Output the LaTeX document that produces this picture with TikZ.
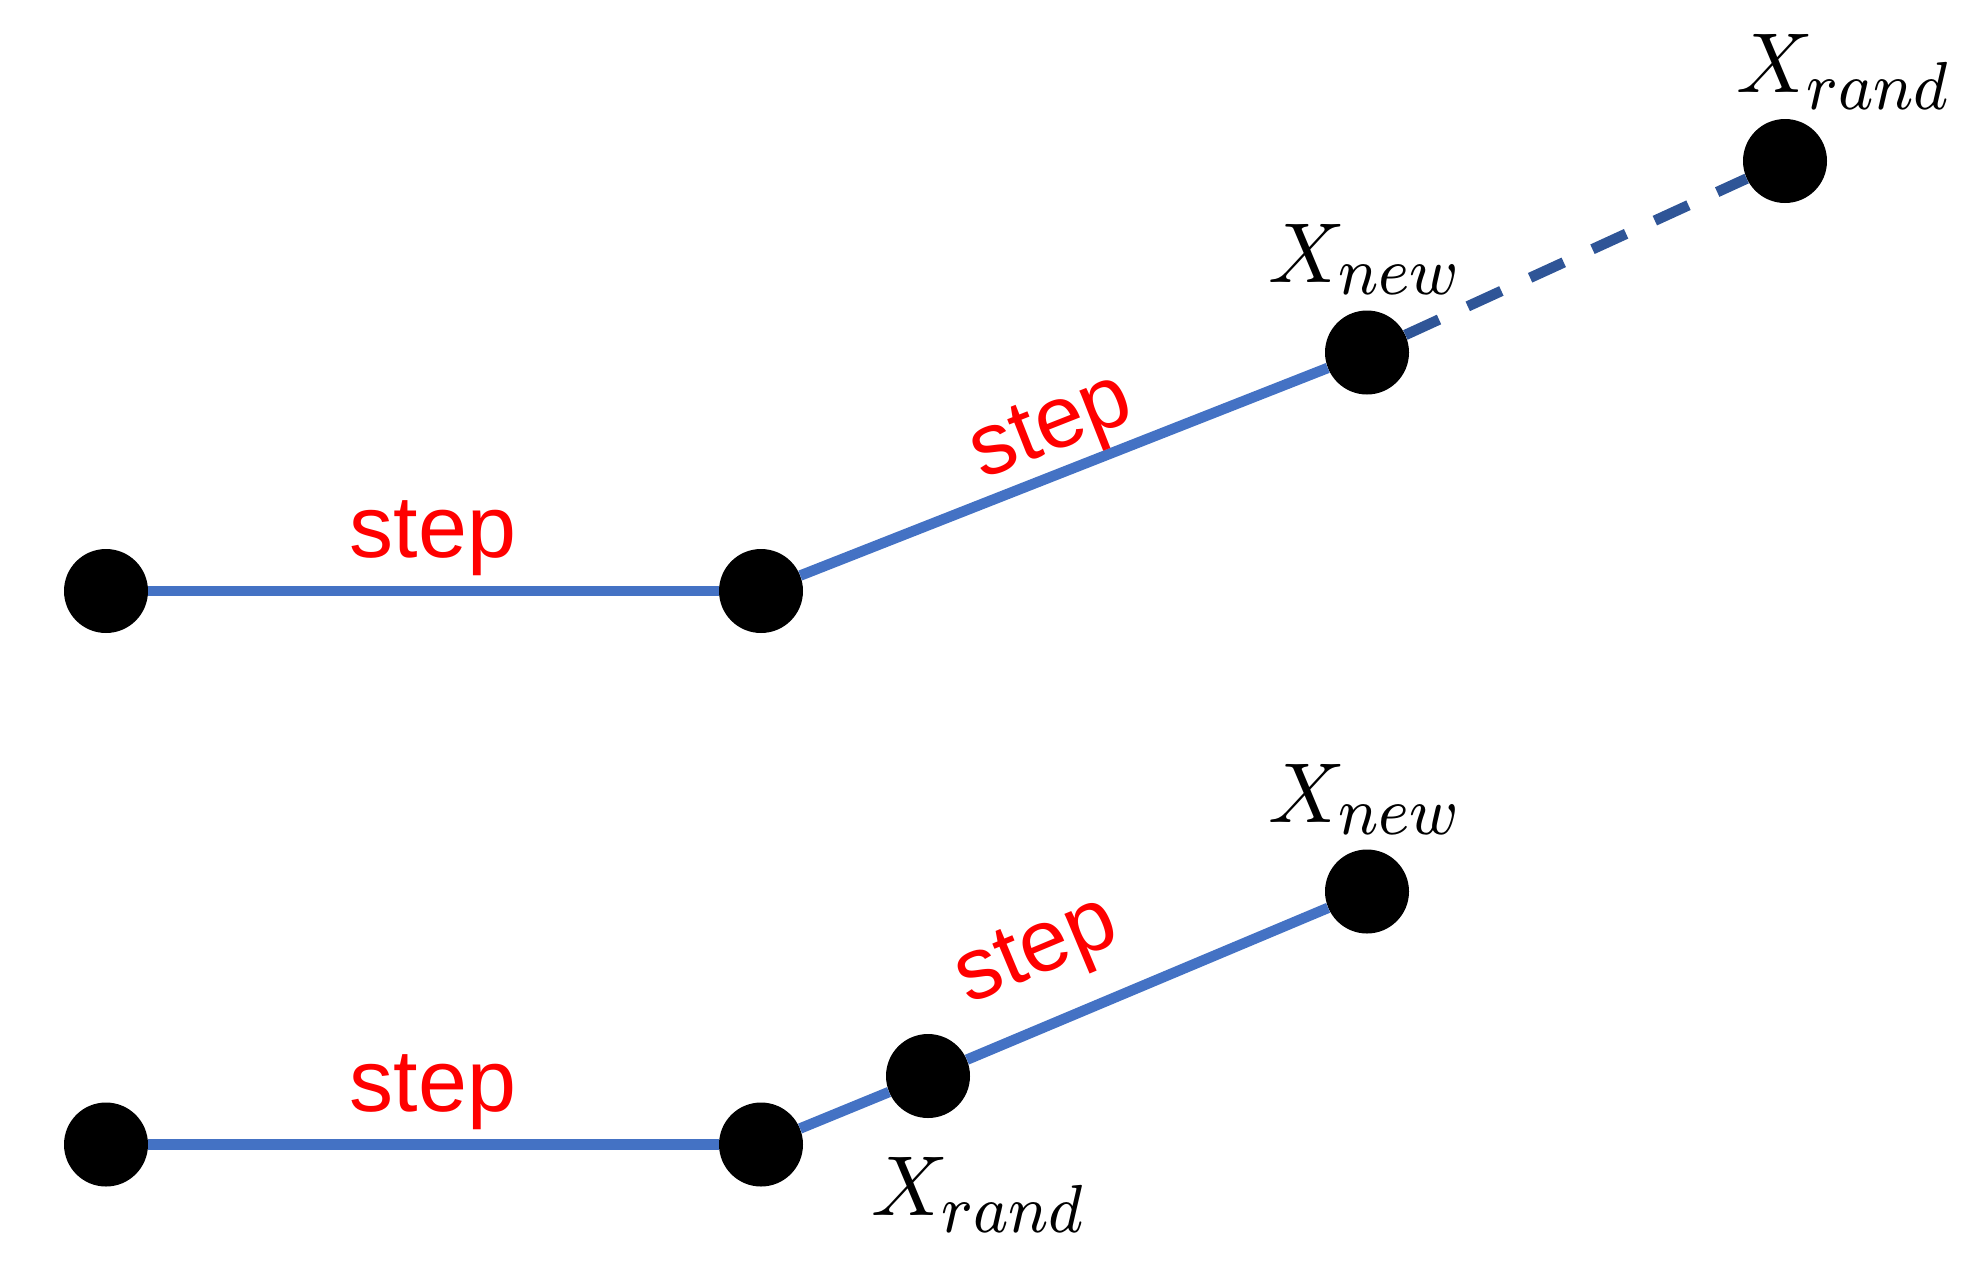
\documentclass[tikz,border=0pt]{standalone}
\usepackage{fontspec}
\usepackage{graphicx}
\newfontfamily\labelfont{Liberation Sans}
\DeclareMathSizes{10}{10}{8}{6}
\definecolor{lineblue}{HTML}{4472C4}
\definecolor{dashblue}{HTML}{2F5597}
\newcommand{\biglbl}[2]{\scalebox{8.5}{\fontsize{10}{12}\selectfont$#1_{\scalebox{0.92}[1]{$\scriptstyle #2$}}$}}
\begin{document}
\begin{tikzpicture}[x=1pt,y=-1pt,
  dot/.style={circle,fill=black,draw=none,minimum size=84pt,inner sep=0pt},
  link/.style={draw=lineblue,line width=10.5pt},
  dashlink/.style={draw=dashblue,line width=10.5pt,dash pattern=on 37pt off 31.6pt},
  steplbl/.style={text=red,font={\labelfont\fontsize{88}{100}\selectfont},inner sep=0pt},
  xlbl/.style={inner sep=0pt,anchor=base west}]
\useasboundingbox (0,0) rectangle (1981,1272);
% nodes
\node[dot] (a1) at (106,591) {};
\node[dot] (a2) at (761,591) {};
\node[dot] (a3) at (1367,352.5) {};
\node[dot] (a4) at (1785,161) {};
\node[dot] (b1) at (106,1144.5) {};
\node[dot] (b2) at (761,1144.5) {};
\node[dot] (b3) at (928,1076) {};
\node[dot] (b4) at (1367,891.5) {};
% connectors
\draw[link] (a1) -- (a2);
\draw[link] (a2) -- (a3);
\draw[dashlink] (a3) -- (a4);
\draw[link] (b1) -- (b2);
\draw[link] (b2) -- (b3);
\draw[link] (b3) -- (b4);
% labels
\node[steplbl,anchor=base] (s1) at (433,557) {step};
\node[steplbl,rotate=21.5] (s2) at (1053,431) {step};
\node[steplbl,anchor=base] (s3) at (433,1111) {step};
\node[steplbl,rotate=22.7] (s4) at (1038,955) {step};
\node[xlbl] (n1) at (1268,282) {\biglbl{X}{new}};
\node[xlbl] (r1) at (1736,92) {\biglbl{X}{rand}};
\node[xlbl] (n2) at (1268,822) {\biglbl{X}{new}};
\node[xlbl] (r2) at (871,1215) {\biglbl{X}{rand}};
\end{tikzpicture}
\end{document}
